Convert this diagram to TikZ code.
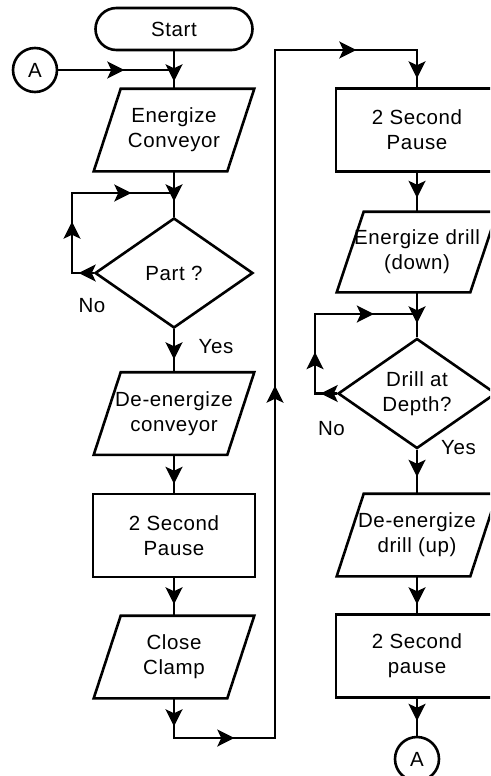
\documentclass[tikz,border=0pt]{standalone}
\usepackage{fontspec}
\setmainfont[LetterSpace=3]{Liberation Sans}
\usetikzlibrary{shapes.geometric,arrows.meta,decorations.markings,calc}
\tikzset{
  base/.style={line width=2.6pt, draw=black, font=\fontsize{20.5}{25}\selectfont, align=center, inner sep=0pt},
  box/.style={base, rectangle, minimum width=162pt, minimum height=83pt},
  iotext/.style={base, draw=none, rectangle, minimum width=158pt, minimum height=80pt},
  dec/.style={base, diamond, aspect=1.44, minimum width=158pt, minimum height=110pt},
  term/.style={base, rectangle, rounded corners=21pt, minimum width=157pt, minimum height=42pt},
  conn/.style={base, circle, minimum size=44pt},
  flow/.style={line width=2.6pt, draw=black},
  tipat/.style={postaction={decorate, decoration={markings, mark=at position #1 with {\arrow{Stealth[length=17pt,width=17pt,inset=4pt]}}}}},
  lbl/.style={font=\fontsize{20.5}{25}\selectfont, inner sep=0pt},
}
\newcommand\iodraw[1]{\draw[flow, line join=miter] ($(#1.north west)+(27pt,0)$) -- (#1.north east) -- ($(#1.south east)+(-27pt,0)$) -- (#1.south west) -- cycle;}
\begin{document}
\begin{tikzpicture}[x=1pt,y=-1pt]
\useasboundingbox (0,0) rectangle (490,776);
\clip (0,0) rectangle (490,776);
% left column
\node[term] (start) at (174,29) {Start};
\node[conn] (a1) at (35,70) {A};
\node[iotext] (p1) at (174,130) {Energize\\Conveyor};
\node[dec] (d1) at (174,273) {Part ?};
\node[iotext] (p2) at (174,413.5) {De-energize\\conveyor};
\node[box] (r0) at (174,535.5) {2 Second\\Pause};
\node[iotext] (p3) at (174,657) {Close\\Clamp};
\iodraw{p1}
\iodraw{p2}
\iodraw{p3}
% right column
\node[box] (r1) at (417,130) {2 Second\\Pause};
\node[iotext, minimum height=78pt] (p4) at (417,252) {Energize drill\\(down)};
\node[dec] (d2) at (417,393.5) {Drill at\\Depth?};
\node[iotext] (p5) at (417,535) {De-energize\\drill (up)};
\node[box] (r2) at (417,656) {2 Second\\pause};
\node[conn] (a2) at (417,759) {A};
\iodraw{p4}
\iodraw{p5}
% labels
\node[lbl] (no1) at (92,306) {No};
\node[lbl] (yes1) at (216,346.5) {Yes};
\node[lbl] (no2) at (331.5,428.5) {No};
\node[lbl] (yes2) at (458.5,447.5) {Yes};
% junctions
\coordinate (j1) at (174,70);
\coordinate (j2) at (174,193);
\coordinate (l1) at (72,193);
\coordinate (b2) at (275,738);
\coordinate (t1) at (275,50);
\coordinate (j3) at (417,314);
\coordinate (l2) at (315,314);
% connectors
\draw[flow, tipat=30pt] (start.south) -- (p1.north);
\draw[flow, tipat=66pt] (a1.east) -- (j1);
\draw[flow, tipat=30pt] (p1.south) -- (d1.north);
\draw[flow, tipat=15pt, tipat=73pt, tipat=161pt] (d1.west) -| (l1) -- (j2);
\draw[flow, tipat=30pt] (d1.south) -- (p2.north);
\draw[flow, tipat=29pt] (p2.south) -- (r0.north);
\draw[flow, tipat=26pt] (r0.south) -- (p3.north);
\draw[flow, tipat=28pt, tipat=100pt, tipat=493pt, tipat=910pt, tipat=999pt] (p3.south) |- (b2) -- (t1) -| (r1.north);
\draw[flow, tipat=25pt] (r1.south) -- (p4.north);
\draw[flow, tipat=31pt] (p4.south) -- (d2.north);
\draw[flow, tipat=16pt, tipat=63pt, tipat=160pt] (d2.west) -| (l2) -- (j3);
\draw[flow, tipat=27pt] (d2.south) -- (p5.north);
\draw[flow, tipat=28pt] (p5.south) -- (r2.north);
\draw[flow, tipat=22pt] (r2.south) -- (a2.north);
\end{tikzpicture}
\end{document}
